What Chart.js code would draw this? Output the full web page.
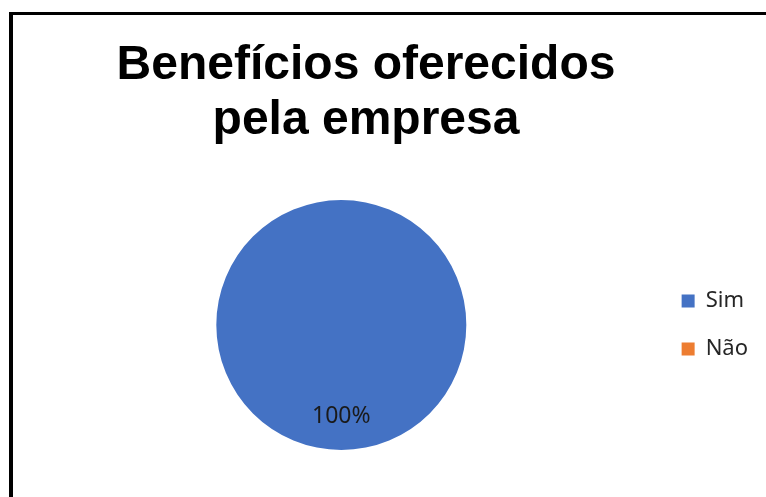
<!DOCTYPE html>
<html>
<head>
<meta charset="utf-8">
<script src="https://cdn.jsdelivr.net/npm/chart.js@4/dist/chart.umd.min.js"></script>
<style>
  html, body { margin: 0; padding: 0; background: #fff; }
  #wrap { position: relative; width: 766px; height: 497px; overflow: hidden; }
  #frame { position: absolute; left: 9px; top: 12px; right: -10px; bottom: -10px;
           border-left: 4px solid #000; border-top: 3px solid #000; }
  #c { position: absolute; left: 0; top: 0; }
</style>
</head>
<body>
<div id="wrap">
  <div id="frame"></div>
  <canvas id="c" width="766" height="497"></canvas>
</div>
<script>
// Chart content
const titleLines = ['Benefícios oferecidos', 'pela empresa'];
const categories = ['Sim', 'Não'];
const values = [100, 0];
const sliceColors = ['#4472C4', '#ED7D31'];

// Draws the two-line bold title above the pie
const titlePlugin = {
  id: 'bigTitle',
  afterDraw(chart) {
    const ctx = chart.ctx;
    ctx.save();
    ctx.fillStyle = '#000';
    ctx.font = 'bold 48px "Liberation Sans", Arial, sans-serif';
    ctx.textAlign = 'center';
    ctx.textBaseline = 'alphabetic';
    titleLines.forEach((line, i) => ctx.fillText(line, 366, 79 + i * 55));
    ctx.restore();
  }
};

// Percentage label placed inside each non-empty slice along its mid angle
const pctPlugin = {
  id: 'pctLabels',
  afterDatasetsDraw(chart) {
    const ctx = chart.ctx;
    const meta = chart.getDatasetMeta(0);
    const total = values.reduce((a, b) => a + b, 0);
    ctx.save();
    ctx.fillStyle = '#1a1a1a';
    ctx.font = '23px "Noto Sans", "Open Sans", sans-serif';
    ctx.textAlign = 'center';
    ctx.textBaseline = 'middle';
    meta.data.forEach((arc, i) => {
      if (!values[i]) return;
      const p = arc.getProps(['x', 'y', 'startAngle', 'endAngle', 'outerRadius'], true);
      const mid = (p.startAngle + p.endAngle) / 2;
      const r = p.outerRadius * 0.73;
      const pct = Math.round(values[i] / total * 100) + '%';
      ctx.fillText(pct, p.x + Math.cos(mid) * r, p.y + Math.sin(mid) * r);
    });
    ctx.restore();
  }
};

new Chart(document.getElementById('c'), {
  type: 'pie',
  data: {
    labels: categories,
    datasets: [{
      data: values,
      backgroundColor: sliceColors,
      borderWidth: 0
    }]
  },
  options: {
    responsive: false,
    animation: false,
    layout: { padding: { left: 27, right: 8, top: 200, bottom: 47 } },
    plugins: {
      title: { display: false },
      tooltip: { enabled: false },
      legend: {
        position: 'right',
        align: 'center',
        labels: {
          boxWidth: 13,
          boxHeight: 13,
          padding: 26,
          color: '#262626',
          font: { family: '"Noto Sans", "Open Sans", sans-serif', size: 22 }
        }
      }
    }
  },
  plugins: [titlePlugin, pctPlugin]
});
</script>
</body>
</html>
